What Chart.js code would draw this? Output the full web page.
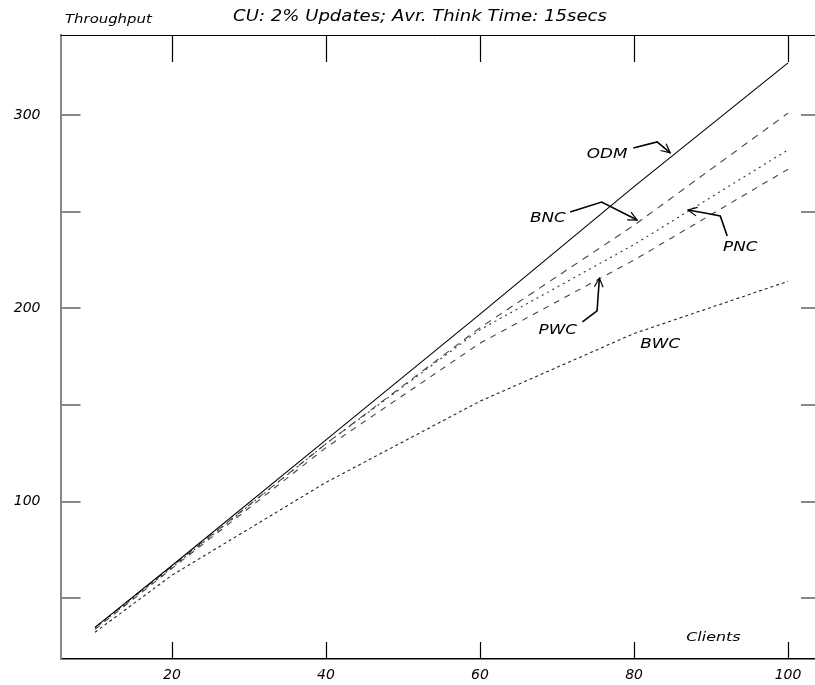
<!DOCTYPE html>
<html>
<head>
<meta charset="utf-8">
<script src="https://cdn.jsdelivr.net/npm/chart.js@4.4.0/dist/chart.umd.min.js"></script>
<style>
html, body { margin: 0; padding: 0; background: #fff; }
</style>
</head>
<body>
<canvas id="myChart" width="815" height="685"></canvas>
<script>
// clients on the x axis, throughput per policy
let Clientes = [10, 20, 40, 60, 80, 100];
let ODM = [35, 67, 132, 197, 263, 327];
let BNC = [35, 66.5, 130, 190, 243, 301];
let PNC = [34.5, 66, 130, 189, 233, 282];
let PWC = [34, 65.5, 128, 182, 225, 272];
let BWC = [32.5, 62, 110, 152, 187, 214];

let X_Ticks = [20, 40, 60, 80, 100];
let Y_Ticks = [100, 200, 300];
let Y_Marcas = [50, 100, 150, 200, 250, 300];

const FUENTE = "DejaVu Sans";

function puntos(serie) {
    return Clientes.map((c, i) => ({ x: c, y: serie[i] }));
}

function texto(ctx, t, x, y, size, sx, align) {
    ctx.save();
    ctx.font = "oblique " + size + "px '" + FUENTE + "'";
    ctx.fillStyle = "#000";
    ctx.textBaseline = "alphabetic";
    ctx.translate(x, y);
    ctx.scale(sx, 1);
    ctx.textAlign = align || "center";
    ctx.fillText(t, 0, 0);
    ctx.restore();
}

function flecha(ctx, xs, ys, pts) {
    const p = pts.map(q => [xs.getPixelForValue(q[0]), ys.getPixelForValue(q[1])]);
    ctx.save();
    ctx.strokeStyle = "#000";
    ctx.lineWidth = 1.6;
    ctx.beginPath();
    ctx.moveTo(p[0][0], p[0][1]);
    for (let i = 1; i < p.length; i++) ctx.lineTo(p[i][0], p[i][1]);
    ctx.stroke();
    const a = p[p.length - 1], b = p[p.length - 2];
    const ang = Math.atan2(a[1] - b[1], a[0] - b[0]);
    ctx.lineWidth = 1.2;
    ctx.beginPath();
    ctx.moveTo(a[0] - 10 * Math.cos(ang - 0.45), a[1] - 10 * Math.sin(ang - 0.45));
    ctx.lineTo(a[0], a[1]);
    ctx.lineTo(a[0] - 10 * Math.cos(ang + 0.45), a[1] - 10 * Math.sin(ang + 0.45));
    ctx.stroke();
    ctx.restore();
}

// frame, inward ticks, titles and the labelled arrows
const marco = {
    id: "marco",
    afterDraw(chart) {
        const ctx = chart.ctx;
        const area = chart.chartArea;
        const xs = chart.scales.x, ys = chart.scales.y;

        ctx.save();
        ctx.strokeStyle = "#000";
        ctx.lineWidth = 1;
        ctx.beginPath();
        ctx.moveTo(area.left, area.top + 0.5);
        ctx.lineTo(area.right, area.top + 0.5);
        ctx.stroke();

        ctx.lineWidth = 1.2;
        X_Ticks.forEach(v => {
            const px = Math.round(xs.getPixelForValue(v)) + 0.5;
            ctx.beginPath();
            ctx.moveTo(px, area.top);
            ctx.lineTo(px, area.top + 27);
            ctx.moveTo(px, area.bottom);
            ctx.lineTo(px, area.bottom - 17);
            ctx.stroke();
        });

        ctx.strokeStyle = "#888";
        ctx.lineWidth = 2;
        Y_Marcas.forEach(v => {
            const py = Math.round(ys.getPixelForValue(v));
            ctx.beginPath();
            ctx.moveTo(area.left, py);
            ctx.lineTo(area.left + 20, py);
            ctx.moveTo(area.right - 14, py);
            ctx.lineTo(area.right, py);
            ctx.stroke();
        });
        ctx.restore();

        texto(ctx, "CU: 2% Updates; Avr. Think Time: 15secs", 420, 21, 16, 1.13);
        texto(ctx, "Throughput", 65, 23, 12, 1.24, "left");
        texto(ctx, "Clients", xs.getPixelForValue(90.3), ys.getPixelForValue(30.6) + 5, 13, 1.22);

        texto(ctx, "ODM", xs.getPixelForValue(76.5), ys.getPixelForValue(280.4) + 5, 14, 1.2);
        texto(ctx, "BNC", xs.getPixelForValue(68.8), ys.getPixelForValue(247.3) + 5, 14, 1.2);
        texto(ctx, "PNC", xs.getPixelForValue(93.8), ys.getPixelForValue(232.3) + 5, 14, 1.2);
        texto(ctx, "PWC", xs.getPixelForValue(70.1), ys.getPixelForValue(189.3) + 5, 14, 1.2);
        texto(ctx, "BWC", xs.getPixelForValue(83.4), ys.getPixelForValue(182.1) + 5, 14, 1.2);

        flecha(ctx, xs, ys, [[79.9, 283.0], [83.0, 286.1], [84.7, 280.4]]);
        flecha(ctx, xs, ys, [[71.7, 249.9], [75.8, 255.0], [80.4, 245.7]]);
        flecha(ctx, xs, ys, [[92.1, 237.4], [91.2, 247.8], [89.2, 249.3], [87.0, 250.9]]);
        flecha(ctx, xs, ys, [[73.3, 193.0], [75.2, 198.7], [75.5, 215.7]]);
    }
};

function serie(label, datos, color, dash) {
    return {
        label: label,
        data: puntos(datos),
        borderColor: color,
        borderWidth: 1.1,
        borderDash: dash,
        pointRadius: 0,
        fill: false,
        tension: 0
    };
}

const config = {
    type: "line",
    data: {
        datasets: [
            serie("ODM", ODM, "#000", []),
            serie("BNC", BNC, "#444", [7, 6]),
            serie("PNC", PNC, "#333", [2, 4]),
            serie("PWC", PWC, "#444", [6, 6]),
            serie("BWC", BWC, "#222", [3, 3])
        ]
    },
    options: {
        responsive: false,
        animation: false,
        layout: { padding: { top: 35, right: 0, left: 0, bottom: 0 } },
        plugins: {
            legend: { display: false },
            tooltip: { enabled: false },
            title: { display: false }
        },
        scales: {
            x: {
                type: "linear",
                min: 5.52,
                max: 103.5,
                afterBuildTicks: s => { s.ticks = X_Ticks.map(v => ({ value: v })); },
                afterFit: s => { s.height = 26; },
                grid: { display: false },
                border: { display: true, color: "#000", width: 1.5 },
                ticks: {
                    padding: 0,
                    color: "#000",
                    maxRotation: 0,
                    font: { family: FUENTE, size: 14, style: "oblique" }
                }
            },
            y: {
                type: "linear",
                min: 18.65,
                max: 341.4,
                afterBuildTicks: s => { s.ticks = Y_Ticks.map(v => ({ value: v })); },
                afterFit: s => { s.width = 60.5; },
                grid: { display: false },
                border: { display: true, color: "#888", width: 2 },
                ticks: {
                    padding: 12,
                    color: "#000",
                    font: { family: FUENTE, size: 14, style: "oblique" }
                }
            }
        }
    },
    plugins: [marco]
};

const myChart = new Chart(document.getElementById("myChart"), config);
</script>
</body>
</html>
